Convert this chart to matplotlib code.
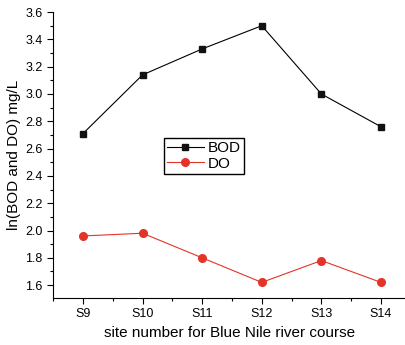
import matplotlib
matplotlib.use("Agg")
import matplotlib.pyplot as plt
from matplotlib.ticker import MultipleLocator

# site labels and values
sites = ["S9", "S10", "S11", "S12", "S13", "S14"]
site_pos = [9, 10, 11, 12, 13, 14]
bod = [2.71, 3.14, 3.33, 3.50, 3.00, 2.76]
do = [1.96, 1.98, 1.80, 1.62, 1.78, 1.62]

plt.rcParams['font.family'] = ['Liberation Sans', 'DejaVu Sans']

fig = plt.figure(figsize=(4.06, 3.45), dpi=100)
ax = fig.add_axes([0.1305, 0.136, 0.8695, 0.829])

ax.plot(site_pos, bod, color="black", lw=0.8, marker="s", ms=5,
        mfc="#111111", mec="#111111", label="BOD")
ax.plot(site_pos, do, color="#e3342a", lw=0.8, marker="o", ms=5.5,
        mfc="#e3342a", mec="#e3342a", label="DO")

ax.set_xlim(8.497, 14.42)
ax.set_ylim(1.505, 3.6)
ax.set_xticks(site_pos)
ax.set_xticklabels(sites)
ax.xaxis.set_minor_locator(MultipleLocator(0.5))
ax.yaxis.set_major_locator(MultipleLocator(0.2))
ax.yaxis.set_minor_locator(MultipleLocator(0.1))
ax.tick_params(axis="both", which="major", direction="out", length=4, width=0.8, labelsize=9)
ax.tick_params(axis="both", which="minor", direction="out", length=2, width=0.8)

for s in ["top", "right"]:
    ax.spines[s].set_visible(False)
for s in ["left", "bottom"]:
    ax.spines[s].set_linewidth(0.8)

ax.set_xlabel("site number for Blue Nile river course", fontsize=11, labelpad=4)
ax.set_ylabel("ln(BOD and DO) mg/L", fontsize=11, labelpad=3)

ax.legend(loc="upper left", bbox_to_anchor=(0.314, 0.56), fontsize=11,
          frameon=True, fancybox=False, edgecolor="black", framealpha=1,
          handlelength=2.4, handletextpad=0.3, borderpad=0.2, labelspacing=0.1,
          borderaxespad=0)

fig.savefig("out.png", dpi=100)
